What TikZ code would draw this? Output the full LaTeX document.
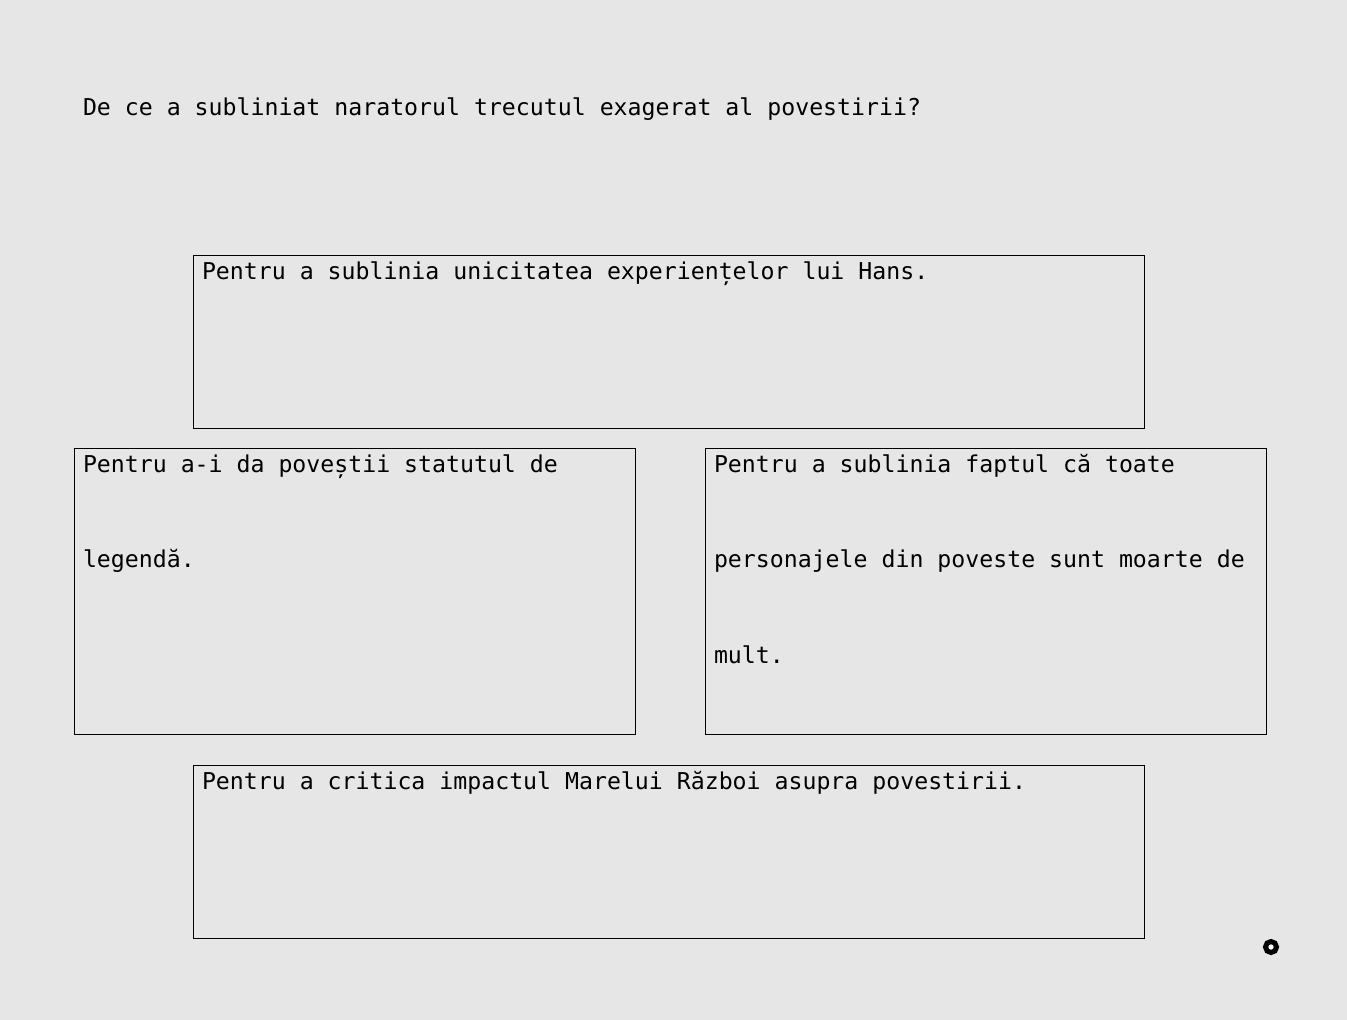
\documentclass[tikz,border=0pt]{standalone}
\usepackage{fontspec}
\setmonofont{DejaVu Sans Mono}
\usetikzlibrary{positioning, calc}
\definecolor{bggray}{RGB}{230,230,230}
\newcommand{\answerlines}[1]{\begin{tabular}[t]{@{}l@{}}#1\end{tabular}}

\begin{document}
\begin{tikzpicture}[
    x=1pt, y=-1pt,
    every node/.style={inner sep=0pt, outer sep=0pt},
    answer/.style={rectangle, draw, line width=0.8pt, anchor=north west},
    wide/.style={answer, minimum width=951pt, minimum height=173pt},
    half/.style={answer, minimum width=561pt, minimum height=286pt},
    answertext/.style={anchor=base west, font=\ttfamily\fontsize{23.2}{95.5}\selectfont},
    marker/.style={circle, draw, line width=5pt, fill=white, minimum size=11pt}
]

% Background
\fill[bggray] (0,0) rectangle (1347,1020);
\useasboundingbox (0,0) rectangle (1347,1020);

% Question
\node[answertext] (question) at (83,115) {De ce a subliniat naratorul trecutul exagerat al povestirii?};

% Answer 0
\node[wide] (a0_box) at (193,255) {};
\node[answertext] (a0_text) at ($(a0_box.north west)+(9,24)$) {Pentru a sublinia unicitatea experiențelor lui Hans.};

% Answer 1
\node[half] (a1_box) at (74,448) {};
\node[answertext] (a1_text) at ($(a1_box.north west)+(9,24)$) {\answerlines{Pentru a-i da poveștii statutul de\\legendă.}};

% Answer 2
\node[half] (a2_box) at (705,448) {};
\node[answertext] (a2_text) at ($(a2_box.north west)+(9,24)$) {\answerlines{Pentru a sublinia faptul că toate\\personajele din poveste sunt moarte de\\mult.}};

% Answer 3
\node[wide] (a3_box) at (193,765) {};
\node[answertext] (a3_text) at ($(a3_box.north west)+(9,24)$) {Pentru a critica impactul Marelui Război asupra povestirii.};

% Marker
\node[marker] (marker) at (1271,947) {};

\end{tikzpicture}
\end{document}
